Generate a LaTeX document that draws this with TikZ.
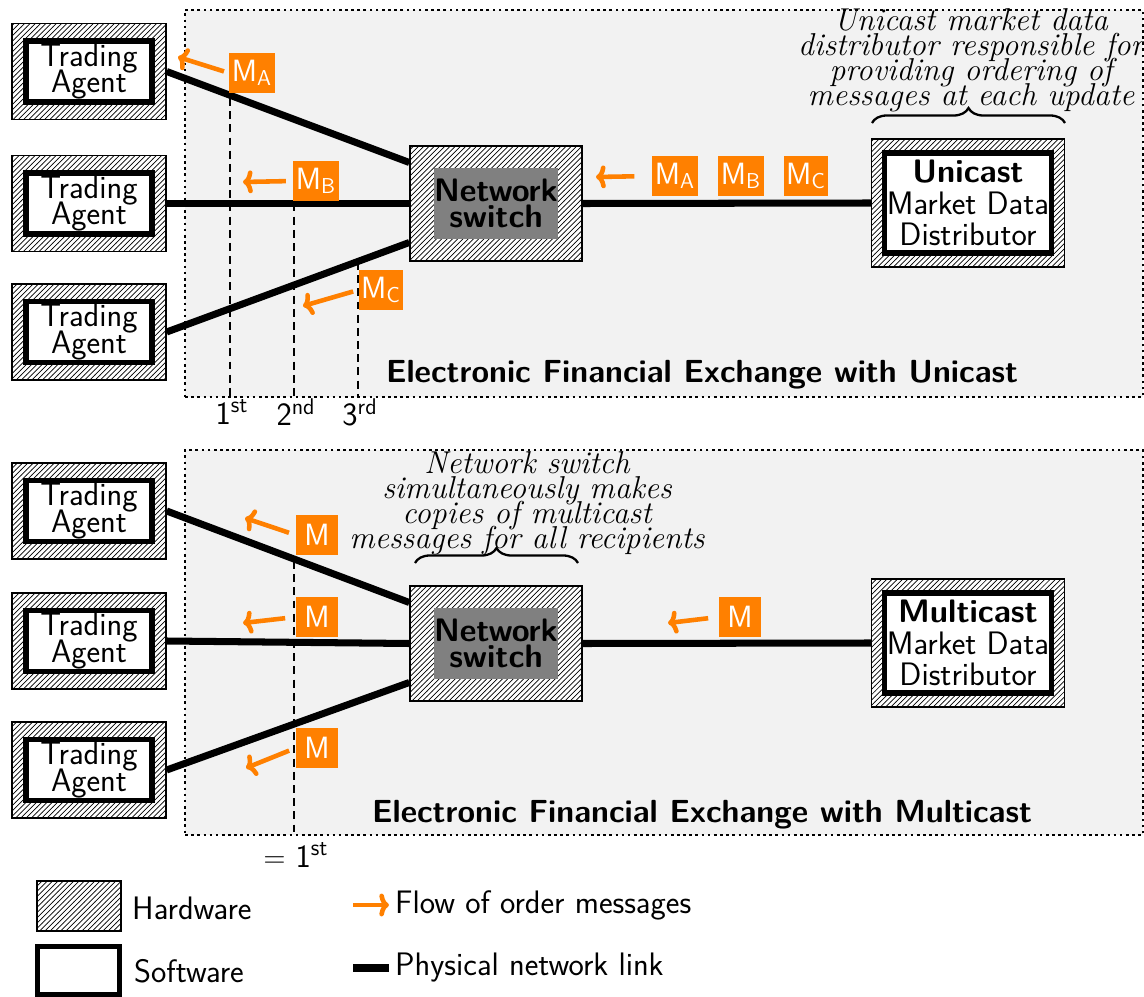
\documentclass[tikz,border=0pt]{standalone}
\usepackage{fontspec}
\usetikzlibrary{positioning,patterns,decorations.pathreplacing,arrows.meta}

\definecolor{msgorange}{RGB}{255,128,0}
\definecolor{panelgray}{RGB}{242,242,242}
\definecolor{switchgray}{RGB}{128,128,128}

\newcommand{\tightlines}{\lineskiplimit=-20pt\lineskip=0pt}

\tikzset{
  panel/.style={draw, dotted, line width=1.5pt, fill=panelgray, inner sep=0pt},
  hardware/.style={draw, line width=0.8pt, preaction={fill=white}, pattern=north east lines, inner sep=0pt},
  software/.style={draw, line width=3pt, fill=white, inner sep=0pt, align=center, font=\sffamily\fontsize{18.5}{15.3}\selectfont\tightlines},
  switchcore/.style={fill=switchgray, inner sep=0pt, align=center, minimum width=2.44cm, minimum height=1.44cm, font=\sffamily\bfseries\fontsize{18.5}{15}\selectfont\tightlines},
  link/.style={line width=4pt},
  flow/.style={draw=msgorange, line width=2.6pt, -{To[length=5.5pt,width=13pt]}},
  msg/.style={fill=msgorange, text=white, inner sep=1.5pt, minimum width=0.84cm, minimum height=0.8cm, font=\sffamily\fontsize{17.5}{17.5}\selectfont},
  order/.style={line width=1.4pt, dash pattern=on 4.5pt off 3pt},
  note/.style={align=center, font=\itshape\fontsize{18}{14.2}\selectfont\tightlines},
  title/.style={font=\sffamily\bfseries\fontsize{18.2}{18}\selectfont},
  label/.style={font=\sffamily\fontsize{18.5}{18}\selectfont},
  brace/.style={decorate, decoration={brace, amplitude=0.3cm}, line width=1.3pt}
}

\begin{document}
\begin{tikzpicture}[x=0.02cm, y=-0.02cm]
\useasboundingbox (0,0) rectangle (1144,997);

\node[panel, minimum width=19.16cm, minimum height=7.74cm] (up) at (664,203.5) {};
\node[panel, minimum width=19.16cm, minimum height=7.70cm] (lp) at (664,642.5) {};

% unicast
\node[hardware, minimum width=3.08cm, minimum height=1.92cm] (ua1) at (89,71.5) {};
\node[software, minimum width=2.52cm, minimum height=1.22cm] at (ua1) {Trading\\Agent};
\node[hardware, minimum width=3.08cm, minimum height=1.92cm] (ua2) at (89,203.5) {};
\node[software, minimum width=2.52cm, minimum height=1.22cm] at (ua2) {Trading\\Agent};
\node[hardware, minimum width=3.08cm, minimum height=1.92cm] (ua3) at (89,332) {};
\node[software, minimum width=2.52cm, minimum height=1.22cm] at (ua3) {Trading\\Agent};

\node[hardware, minimum width=3.44cm, minimum height=2.30cm] (us) at (496,203.5) {};
\node[switchcore] at (us) {Network\\switch};

\node[hardware, minimum width=3.86cm, minimum height=2.56cm] (ud) at (968,203) {};
\node[software, minimum width=3.34cm, minimum height=2.0cm, font=\sffamily\fontsize{18.5}{18}\selectfont] at (ud) {\textbf{Unicast}\\Market Data\\Distributor};

\draw[link] (ua1.east) -- ([yshift=0.82cm]us.west);
\draw[link] (ua2.east) -- (us.west);
\draw[link] (ua3.east) -- ([yshift=-0.78cm]us.west);
\draw[link] (us.east) -- (ud.west);

\node[msg] (ma1) at (252,73) {M\textsubscript{A}};
\node[msg] (mb1) at (316,181) {M\textsubscript{B}};
\node[msg] (mc1) at (381,290) {M\textsubscript{C}};
\node[msg] (ma2) at (675,176) {M\textsubscript{A}};
\node[msg] (mb2) at (741,176) {M\textsubscript{B}};
\node[msg] (mc2) at (806,176) {M\textsubscript{C}};

\coordinate (fa1) at (178,57);
\coordinate (fb1) at (243,182);
\coordinate (fc1) at (303,306);
\coordinate (fs1) at (596,177);
\draw[flow, shorten <=3pt] (ma1.west) -- (fa1);
\draw[flow, shorten <=4pt] (mb1.west) -- (fb1);
\draw[flow, shorten <=3pt] (mc1.west) -- (fc1);
\draw[flow, shorten <=10pt] (ma2.west) -- (fs1);

\coordinate (t1) at (230,98);
\coordinate (t2) at (294,203.5);
\coordinate (t3) at (358,262);
\draw[order] (t1) -- (t1 |- up.south);
\draw[order] (t2) -- (t2 |- up.south);
\draw[order] (t3) -- (t3 |- up.south);
\node[label] (n1) at (232,412) {1\textsuperscript{st}};
\node[label] (n2) at (296,412) {2\textsuperscript{nd}};
\node[label] (n3) at (360,412) {3\textsuperscript{rd}};

\draw[brace] (872,123) -- (1065,123);
\node[note] (unote) at (971,60) {Unicast market data\\distributor responsible for\\providing ordering of\\messages at each update};
\node[title] at (702,375) {Electronic Financial Exchange with Unicast};

% multicast
\node[hardware, minimum width=3.08cm, minimum height=1.92cm] (la1) at (89,511) {};
\node[software, minimum width=2.52cm, minimum height=1.22cm] at (la1) {Trading\\Agent};
\node[hardware, minimum width=3.08cm, minimum height=1.92cm] (la2) at (89,641) {};
\node[software, minimum width=2.52cm, minimum height=1.22cm] at (la2) {Trading\\Agent};
\node[hardware, minimum width=3.08cm, minimum height=1.92cm] (la3) at (89,770) {};
\node[software, minimum width=2.52cm, minimum height=1.22cm] at (la3) {Trading\\Agent};

\node[hardware, minimum width=3.44cm, minimum height=2.30cm] (ls) at (496,643.5) {};
\node[switchcore] at (ls) {Network\\switch};

\node[hardware, minimum width=3.86cm, minimum height=2.56cm] (ld) at (968,643) {};
\node[software, minimum width=3.34cm, minimum height=2.0cm, font=\sffamily\fontsize{18.5}{18}\selectfont] at (ld) {\textbf{Multicast}\\Market Data\\Distributor};

\draw[link] (la1.east) -- ([yshift=0.82cm]ls.west);
\draw[link] (la2.east) -- (ls.west);
\draw[link] (la3.east) -- ([yshift=-0.78cm]ls.west);
\draw[link] (ls.east) -- (ld.west);

\node[msg] (m1) at (317,535) {M};
\node[msg] (m2) at (317,617) {M};
\node[msg] (m3) at (317,748) {M};
\node[msg] (m4) at (740,617) {M};

\coordinate (g1) at (245,518);
\coordinate (g2) at (243,623);
\coordinate (g3) at (246,768);
\coordinate (g4) at (668,623);
\draw[flow, shorten <=4pt] (m1.west) -- (g1);
\draw[flow, shorten <=6pt] (m2.west) -- (g2);
\draw[flow, shorten <=4pt] (m3.west) -- (g3);
\draw[flow, shorten <=6pt] (m4.west) -- (g4);

\coordinate (t4) at (294,561);
\draw[order] (t4) -- (t4 |- lp.south);
\node[label] (n4) at (296,855) {$=$ 1\textsuperscript{st}};

\draw[brace] (415,563) -- (578,563);
\node[note] (lnote) at (527,503) {Network switch\\simultaneously makes\\copies of multicast\\messages for all recipients};
\node[title] at (702,815) {Electronic Financial Exchange with Multicast};

% legend
\node[hardware, minimum width=1.68cm, minimum height=1.0cm] (khw) at (79,906) {};
\node[label, anchor=west] at (126,908) {Hardware};
\node[software, minimum width=1.64cm, minimum height=0.96cm] (ksw) at (78.5,970.5) {};
\node[label, anchor=west] at (128,971) {Software};
\node[label, anchor=west] (kflow) at (389,905) {Flow of order messages};
\coordinate (kf) at (353,905);
\draw[flow] (kf) -- (kflow.west);
\node[label, anchor=west] (klink) at (389,968) {Physical network link};
\coordinate (kl) at (353,968);
\draw[link] (kl) -- (klink.west);
\end{tikzpicture}
\end{document}
